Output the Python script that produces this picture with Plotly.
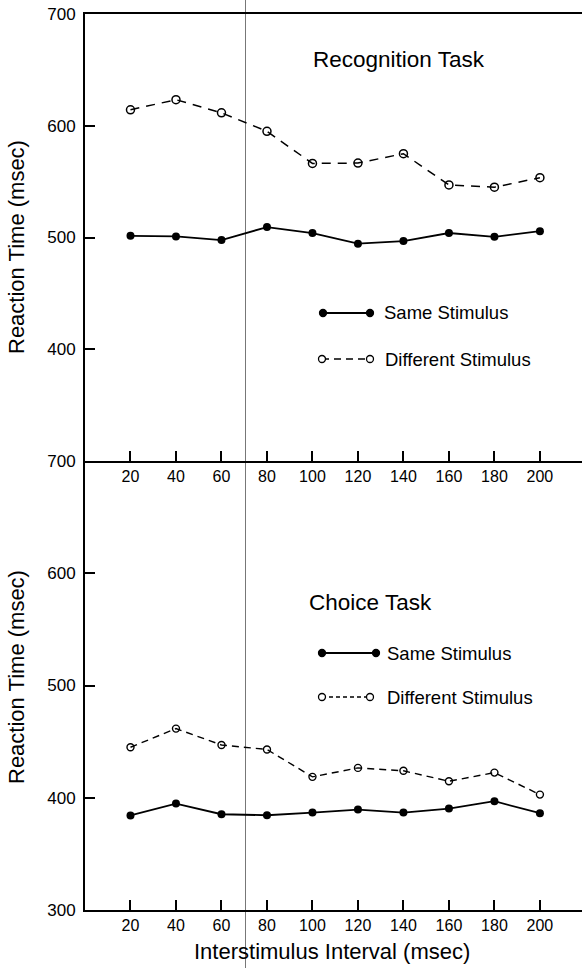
import plotly.graph_objects as go

# ---------------- data ----------------
isi = [20, 40, 60, 80, 100, 120, 140, 160, 180, 200]

recog_same = [501.5, 501, 497.7, 509.3, 504, 494.5, 496.8, 504, 500.6, 505.7]
recog_diff = [614.3, 623.3, 611.6, 595, 566.3, 566.6, 575, 547, 545, 553.5]

choice_same = [384.2, 394.8, 385.3, 384.4, 386.8, 389.5, 386.8, 390.4, 396.9, 386.2]
choice_diff = [445, 461.6, 447, 443, 418.6, 426.6, 424, 414.7, 422.4, 402.8]

x_ticks = [20, 40, 60, 80, 100, 120, 140, 160, 180, 200]
top_y_ticks = [400, 500, 600, 700]
bottom_y_ticks = [300, 400, 500, 600, 700]

# ---------------- layout geometry ----------------
W, H = 582, 968
ML, MR, MT, MB = 85, 0, 14, 58
PW, PH = W - ML - MR, H - MT - MB
split = (910 - 461) / PH

FONT = "Liberation Sans, Arial, Helvetica, sans-serif"


def px(xp):
    """page x pixel -> paper coordinate"""
    return (xp - ML) / PW


def py(yp):
    """page y pixel -> paper coordinate"""
    return (H - MB - yp) / PH


fig = go.Figure()

fig.add_trace(go.Scatter(x=isi, y=recog_same, mode="lines+markers", xaxis="x", yaxis="y",
                         line=dict(color="black", width=1.8),
                         marker=dict(symbol="circle", size=8, color="black"),
                         name="Same Stimulus", showlegend=False))
fig.add_trace(go.Scatter(x=isi, y=recog_diff, mode="lines+markers", xaxis="x", yaxis="y",
                         line=dict(color="black", width=1.5, dash="9px,7px"),
                         marker=dict(symbol="circle-open", size=8, color="black", line=dict(width=1.5)),
                         name="Different Stimulus", showlegend=False))
fig.add_trace(go.Scatter(x=isi, y=choice_same, mode="lines+markers", xaxis="x2", yaxis="y2",
                         line=dict(color="black", width=1.8),
                         marker=dict(symbol="circle", size=8, color="black"),
                         name="Same Stimulus", showlegend=False))
fig.add_trace(go.Scatter(x=isi, y=choice_diff, mode="lines+markers", xaxis="x2", yaxis="y2",
                         line=dict(color="black", width=1.4, dash="7px,5px"),
                         marker=dict(symbol="circle-open", size=7, color="black", line=dict(width=1.4)),
                         name="Different Stimulus", showlegend=False))

axis_common = dict(showgrid=False, zeroline=False, showline=True, linecolor="black",
                   linewidth=1.8, ticks="inside", ticklen=10, tickwidth=1.6, tickcolor="black")
xfont = dict(family=FONT, size=16, color="black")
yfont = dict(family=FONT, size=17, color="black")

fig.update_layout(
    width=W, height=H,
    margin=dict(l=ML, r=MR, t=MT, b=MB),
    paper_bgcolor="white", plot_bgcolor="white",
    font=dict(family=FONT, color="black"),
    xaxis=dict(domain=[0, 1], anchor="y", range=[0, 218.5], tickvals=x_ticks,
               mirror=True, tickfont=xfont, **axis_common),
    yaxis=dict(domain=[split, 1], anchor="x", range=[300, 700], tickvals=top_y_ticks,
               ticklabelstandoff=4, tickfont=yfont, **axis_common),
    xaxis2=dict(domain=[0, 1], anchor="y2", range=[0, 218.5], tickvals=x_ticks,
                tickfont=xfont, **axis_common),
    yaxis2=dict(domain=[0, split], anchor="x2", range=[300, 700], tickvals=bottom_y_ticks,
                ticklabelstandoff=4, tickfont=yfont, **axis_common),
)

annotations = []
# axis titles
for yc in (247, 677):
    annotations.append(dict(text="Reaction Time (msec)", xref="paper", yref="paper",
                            x=px(16), y=py(yc), textangle=-90, showarrow=False,
                            xanchor="center", yanchor="middle",
                            font=dict(family=FONT, size=22, color="black")))
annotations.append(dict(text="Interstimulus Interval (msec)", xref="paper", yref="paper",
                        x=px(332), y=py(951), showarrow=False, xanchor="center", yanchor="middle",
                        font=dict(family=FONT, size=22, color="black")))
# panel titles
annotations.append(dict(text="Recognition Task", xref="paper", yref="paper", x=px(311), y=py(60),
                        showarrow=False, xanchor="left", yanchor="middle",
                        font=dict(family=FONT, size=22.5, color="black")))
annotations.append(dict(text="Choice Task", xref="paper", yref="paper", x=px(307), y=py(602),
                        showarrow=False, xanchor="left", yanchor="middle",
                        font=dict(family=FONT, size=22.5, color="black")))

shapes = []


def legend_key(x0, x1, yc, filled, dash, label, tx):
    shapes.append(dict(type="line", xref="paper", yref="paper", x0=px(x0), x1=px(x1),
                       y0=py(yc), y1=py(yc),
                       line=dict(color="black", width=1.8 if filled else 1.4, dash=dash)))
    for xc in (x0, x1):
        shapes.append(dict(type="circle", xref="paper", yref="paper",
                           xsizemode="pixel", ysizemode="pixel",
                           xanchor=px(xc), yanchor=py(yc), x0=-3.5, x1=3.5, y0=-3.5, y1=3.5,
                           line=dict(color="black", width=1.3),
                           fillcolor="black" if filled else "white"))
    annotations.append(dict(text=label, xref="paper", yref="paper", x=px(tx), y=py(yc),
                            showarrow=False, xanchor="left", yanchor="middle",
                            font=dict(family=FONT, size=18.5, color="black")))


legend_key(323, 370, 313, True, "solid", "Same Stimulus", 382)
legend_key(322, 370, 359, False, "7px,5px", "Different Stimulus", 383)
legend_key(322, 376, 653, True, "solid", "Same Stimulus", 385)
legend_key(322, 370, 697, False, "4px,3px", "Different Stimulus", 385)

# faint fold line in the scanned figure
shapes.append(dict(type="line", xref="paper", yref="paper", x0=px(245.5), x1=px(245.5),
                   y0=py(0), y1=py(968), line=dict(color="#777777", width=1), layer="below"))

fig.update_layout(annotations=annotations, shapes=shapes)

# remove the default 8px page margin so the figure sits at the window corner
fig.write_html("out.html",
               config={"displayModeBar": False},
               post_script="document.body.style.margin='0';document.body.style.overflow='hidden';")
